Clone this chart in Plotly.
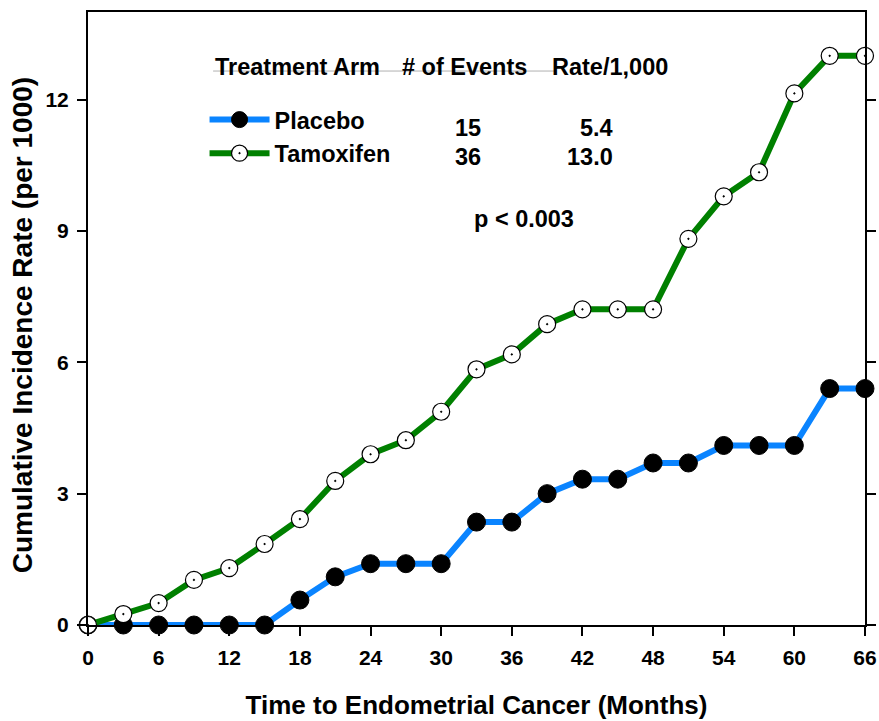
import plotly.graph_objects as go

# Follow-up months at which cumulative incidence was evaluated
months = [0, 3, 6, 9, 12, 15, 18, 21, 24, 27, 30, 33, 36, 39, 42, 45, 48, 51, 54, 57, 60, 63, 66]

# Cumulative incidence rate per 1000 women
placebo = [0, 0, 0, 0, 0, 0, 0.57, 1.1, 1.4, 1.4, 1.4, 2.35, 2.35, 3.0, 3.33, 3.33, 3.7, 3.7,
           4.1, 4.1, 4.1, 5.4, 5.4]
tamoxifen = [0, 0.25, 0.5, 1.03, 1.3, 1.85, 2.42, 3.29, 3.9, 4.22, 4.87, 5.84, 6.18, 6.87,
             7.21, 7.21, 7.21, 8.82, 9.79, 10.34, 12.14, 13.0, 13.0]

arms = ["Placebo", "Tamoxifen"]
events = ["15", "36"]
rates = ["5.4", "13.0"]

x_ticks = list(range(0, 67, 6))
y_ticks = [0, 3, 6, 9, 12]

FONT = "Liberation Sans, Arial, sans-serif"
BLUE = "#0A84FF"
GREEN = "#008000"

fig = go.Figure()

fig.add_trace(go.Scatter(
    x=months, y=placebo, name="<b>%s</b>" % arms[0], mode="lines+markers",
    line=dict(color=BLUE, width=6),
    marker=dict(symbol="circle", size=18, color="black", line=dict(color="black", width=1)),
    cliponaxis=False,
))
fig.add_trace(go.Scatter(
    x=months, y=tamoxifen, name="<b>%s</b>" % arms[1], mode="lines+markers",
    line=dict(color=GREEN, width=6),
    marker=dict(symbol="circle-dot", size=17, color="white", line=dict(color="black", width=1.2)),
    cliponaxis=False,
))

# Table-style header and values next to the legend
hdr_y = 0.910
text_font = dict(family=FONT, size=23.5, color="black")
annotations = [
    dict(text="<b>Treatment Arm</b>", x=0.2696, y=hdr_y),
    dict(text="<b># of Events</b>", x=0.485, y=hdr_y),
    dict(text="<b>Rate/1,000</b>", x=0.672, y=hdr_y),
    dict(text="<b>%s</b>" % events[0], x=0.489, y=0.811),
    dict(text="<b>%s</b>" % rates[0], x=0.678, y=0.811, xanchor="right"),
    dict(text="<b>%s</b>" % events[1], x=0.489, y=0.763),
    dict(text="<b>%s</b>" % rates[1], x=0.678, y=0.763, xanchor="right"),
    dict(text="<b>p < 0.003</b>", x=0.561, y=0.662),
]
for a in annotations:
    a.setdefault("xanchor", "center")
    a.update(xref="paper", yref="paper", yanchor="middle", showarrow=False, font=text_font)

# Vertical axis title, placed as a rotated annotation
annotations.append(dict(
    text="<b>Cumulative Incidence Rate (per 1000)</b>", textangle=-90,
    xref="paper", yref="paper", x=-0.0849, y=0.489, xanchor="center", yanchor="middle",
    showarrow=False, font=dict(family=FONT, size=28, color="black"),
))

fig.update_layout(
    width=879, height=721,
    margin=dict(l=88, r=14, t=12, b=96, autoexpand=False),
    paper_bgcolor="white", plot_bgcolor="white",
    font=dict(family=FONT, color="black"),
    annotations=annotations,
    shapes=[dict(type="line", xref="paper", yref="paper", x0=0.161, x1=0.601, y0=0.9037,
                 y1=0.9037, line=dict(color="#b0b0b0", width=1))],
    legend=dict(x=0.15, y=0.86, xanchor="left", yanchor="top", bgcolor="rgba(0,0,0,0)",
                font=dict(family=FONT, size=23.5, color="black"), itemwidth=60,
                tracegroupgap=0),
    showlegend=True,
)

fig.update_xaxes(
    range=[0, 66], tickvals=x_ticks, ticktext=["<b>%d</b>" % v for v in x_ticks],
    ticks="outside", ticklen=9, tickwidth=1.5, tickcolor="black", automargin=False,
    ticklabelstandoff=4,
    showline=True, linecolor="black", linewidth=2, mirror=True, showgrid=False, zeroline=False,
    tickfont=dict(family=FONT, size=21, color="black"),
    title=dict(text="<b>Time to Endometrial Cancer (Months)</b>", standoff=28,
               font=dict(family=FONT, size=26, color="black")),
)
fig.update_yaxes(
    range=[0, 14], tickvals=y_ticks, ticktext=["<b>%d</b>" % v for v in y_ticks],
    ticks="outside", ticklen=9, tickwidth=1.5, tickcolor="black", automargin=False,
    ticklabelstandoff=4,
    showline=True, linecolor="black", linewidth=2, mirror="ticks", showgrid=False, zeroline=False,
    tickfont=dict(family=FONT, size=21, color="black"),
)

fig.write_html("out.html")
